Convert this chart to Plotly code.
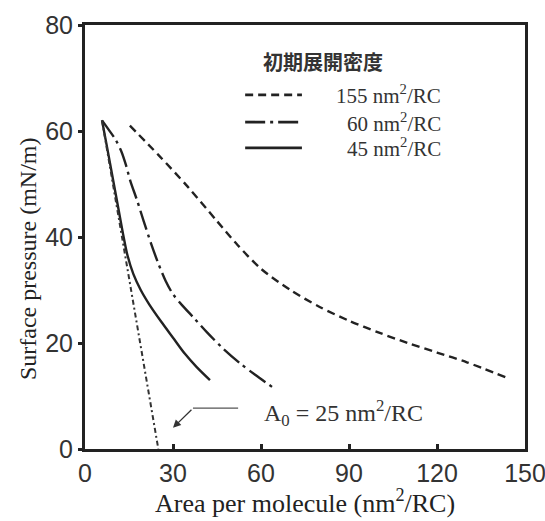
import plotly.graph_objects as go

# ---- data ----
area_155 = [15.3, 25, 35, 45, 52, 60, 70, 80, 90, 100, 110, 120, 130, 143.5]
pres_155 = [61, 55.5, 49.5, 43, 38.5, 34, 30, 26.8, 24.2, 22, 20, 18.2, 16.4, 13.5]

area_60 = [5.8, 8, 10.5, 12.5, 14, 15.5, 17.7, 20, 22.5, 25, 27.5, 30, 33, 37, 41.6, 47, 52.8, 58, 63.8]
pres_60 = [62, 60.3, 58.3, 56, 53.5, 50.5, 47, 43, 38.8, 35, 31.7, 29.2, 27.2, 24.8, 22, 19, 16.2, 14, 11.7]

area_45 = [5.8, 7.5, 9.5, 11.5, 13, 14.5, 16.5, 19, 22, 26, 30, 34, 38, 42.6]
pres_45 = [62, 57, 51, 45, 40.5, 36.5, 33, 30, 27.2, 24, 21, 18, 15.5, 13]

extrap_area = [5.8, 25]
extrap_pres = [62, 0]

legend_labels = ["155 nm<sup>2</sup>/RC", "60 nm<sup>2</sup>/RC", "45 nm<sup>2</sup>/RC"]
legend_title = "初期展開密度"
a0_label = "A<sub>0</sub> = 25 nm<sup>2</sup>/RC"
a0_point = (30, 4)
x_ticks = [0, 30, 60, 90, 120, 150]
y_ticks = [0, 20, 40, 60, 80]

LINE_COLOR = "#222222"
SERIF = "Liberation Serif, Times New Roman, serif"
SANS = "Liberation Sans, Arial, sans-serif"

styles = [
    dict(dash="8px,5px", width=2.4),
    dict(dash="20px,5px,3px,5px", width=2.4),
    dict(dash="solid", width=2.4),
]

fig = go.Figure()
for (xs, ys), st, name in zip([(area_155, pres_155), (area_60, pres_60), (area_45, pres_45)], styles, legend_labels):
    fig.add_trace(go.Scatter(x=xs, y=ys, mode="lines", name=name, showlegend=False,
                             line=dict(color=LINE_COLOR, width=st["width"], dash=st["dash"], shape="spline", smoothing=0.8)))

fig.add_trace(go.Scatter(x=extrap_area, y=extrap_pres, mode="lines", showlegend=False,
                         line=dict(color="#333333", width=2, dash="5px,3px,2px,3px")))

# manual legend
legend_rows_y = [0.835, 0.771, 0.71]
for st, lab, yy in zip(styles, legend_labels, legend_rows_y):
    fig.add_shape(type="line", xref="paper", yref="paper", x0=0.364, x1=0.493, y0=yy, y1=yy,
                  line=dict(color=LINE_COLOR, width=st["width"] + 0.4, dash=st["dash"]))
    fig.add_annotation(xref="paper", yref="paper", x=0.8136, y=yy, text=lab, showarrow=False,
                       xanchor="right", yanchor="middle", font=dict(family=SERIF, size=21, color="#333333"))
fig.add_annotation(xref="paper", yref="paper", x=0.541, y=0.913, text="<b>" + legend_title + "</b>",
                   showarrow=False, xanchor="center", yanchor="middle",
                   font=dict(family="Noto Sans CJK JP", size=20, color="#333333"))

# A0 annotation with bent leader
fig.add_annotation(x=a0_point[0], y=a0_point[1], xref="x", yref="y", ax=36.8, ay=7.7, axref="x", ayref="y",
                   text="", showarrow=True, arrowhead=2, arrowsize=1.2, arrowwidth=1.3, arrowcolor="#333333")
fig.add_shape(type="line", xref="x", yref="y", x0=36.8, x1=52.2, y0=7.7, y1=7.7,
              line=dict(color="#555555", width=1.3))
fig.add_annotation(x=60.3, y=6.8, xref="x", yref="y", text=a0_label, showarrow=False,
                   xanchor="left", yanchor="middle", font=dict(family=SERIF, size=24, color="#333333"))

# axis titles as annotations for precise position
fig.add_annotation(xref="paper", yref="paper", x=-0.1295, y=0.448, text="Surface pressure (mN/m)",
                   textangle=-90, showarrow=False, xanchor="center", yanchor="middle",
                   font=dict(family=SERIF, size=24, color="#222"))
fig.add_annotation(xref="paper", yref="paper", x=0.5, y=-0.168, text="Area per molecule (nm<sup>2</sup>/RC)",
                   showarrow=False, xanchor="center", yanchor="bottom",
                   font=dict(family=SERIF, size=26, color="#222"))

fig.update_layout(
    width=545, height=521,
    margin=dict(l=85, r=20, t=25, b=72),
    paper_bgcolor="white", plot_bgcolor="white",
    showlegend=False,
)
fig.update_xaxes(range=[0, 150], tickvals=x_ticks, ticks="inside", ticklen=5, tickwidth=3, tickcolor="#222",
                 showline=True, linewidth=3, linecolor="#222", mirror=True, showgrid=False, zeroline=False,
                 ticklabeloverflow="allow", automargin=False,
                 tickfont=dict(family=SANS, size=25, color="#333"))
fig.update_yaxes(range=[0, 80], tickvals=y_ticks, ticks="outside", ticklen=4, tickwidth=3, tickcolor="#222",
                 showline=True, linewidth=3, linecolor="#222", mirror=True, showgrid=False, zeroline=False,
                 ticklabeloverflow="allow", automargin=False,
                 tickfont=dict(family=SANS, size=25, color="#333"))

fig.write_html("out.html")
